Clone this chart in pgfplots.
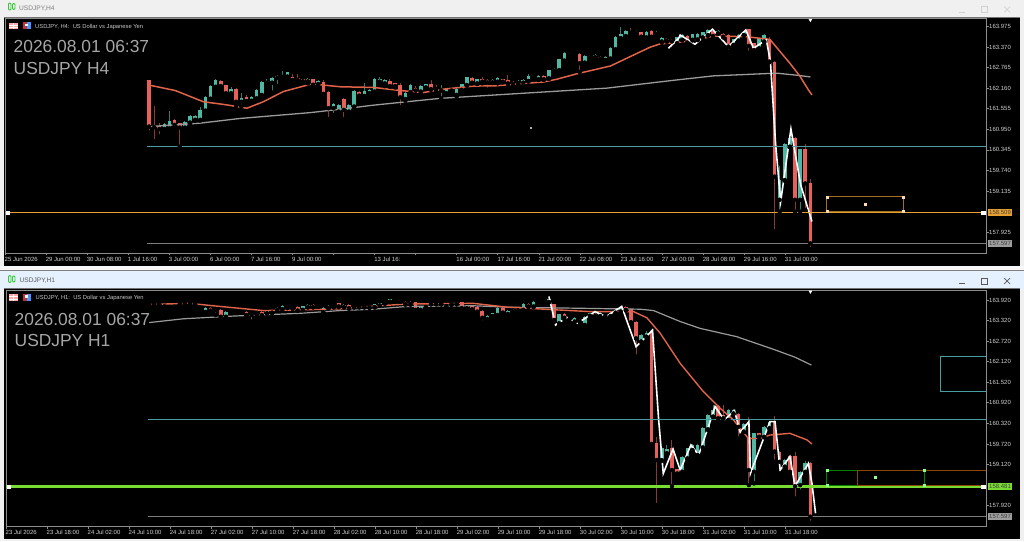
\documentclass[border=0pt]{standalone}
\usepackage{fontspec}
\setmainfont{Liberation Sans}
\usepackage{pgfplots}
\usepackage{pgfplotstable}
\pgfplotsset{compat=1.18}

\definecolor{upc}{HTML}{4FB8A2}
\definecolor{dnc}{HTML}{E8605A}
\definecolor{upw}{HTML}{2F7D70}
\definecolor{dnw}{HTML}{8A3A36}
\definecolor{maRed}{HTML}{E0634A}
\definecolor{maGray}{HTML}{9A9A9A}
\definecolor{levTeal}{HTML}{4A9EA2}
\definecolor{levOrange}{HTML}{E8A030}
\definecolor{levGreen}{HTML}{78DC32}
\definecolor{levGray}{HTML}{7C7C7C}
\definecolor{tickc}{HTML}{D0D0D0}
\definecolor{frame}{HTML}{8C8C8C}

% H4 candles: bar o h l c
\pgfplotstableread{
i o h l c
3 160.96 161.13 160.93 161.11
4 160.98 161.49 160.93 161.19
7 161.00 161.18 160.98 161.16
8 161.15 161.36 161.13 161.34
9 161.23 161.37 161.21 161.34
10 161.23 161.60 161.21 161.52
11 161.50 161.93 161.48 161.91
12 161.85 162.24 161.83 162.22
13 162.20 162.42 162.18 162.40
16 162.01 162.18 161.96 162.13
18 161.76 162.01 161.62 161.88
20 161.79 161.93 161.77 161.91
21 161.86 162.13 161.84 162.11
22 161.96 162.37 161.94 162.35
23 162.32 162.42 162.25 162.36
24 162.32 162.48 162.03 162.46
25 162.46 162.54 162.22 162.52
26 162.49 162.67 162.47 162.52
27 162.50 162.64 162.40 162.62
31 162.36 162.45 162.30 162.42
33 162.28 162.39 162.26 162.37
36 161.57 161.71 161.37 161.69
37 161.47 161.69 161.45 161.67
39 161.47 161.69 161.45 161.67
40 161.62 162.11 161.60 162.09
42 161.93 162.32 161.90 162.09
43 162.01 162.13 161.99 162.11
44 162.06 162.45 162.04 162.43
45 162.35 162.48 162.30 162.43
46 162.30 162.44 162.22 162.40
50 161.84 162.05 161.79 162.03
51 162.04 162.27 162.02 162.25
53 162.06 162.24 162.04 162.22
54 162.18 162.29 162.16 162.27
57 162.09 162.25 161.86 162.13
58 162.01 162.15 161.99 162.13
60 161.96 162.16 161.91 162.14
61 162.11 162.29 162.09 162.27
62 162.25 162.50 162.23 162.48
64 162.30 162.44 162.28 162.42
67 162.33 162.42 162.31 162.40
68 162.35 162.50 162.30 162.45
72 162.30 162.40 162.28 162.35
73 162.32 162.42 162.18 162.40
74 162.37 162.58 162.35 162.52
76 162.42 162.54 162.40 162.52
78 162.45 162.70 162.43 162.68
79 162.67 162.74 162.65 162.72
80 162.69 163.03 162.67 163.01
81 162.97 163.22 162.95 163.20
83 163.14 163.20 163.04 163.17
85 162.91 163.13 162.89 163.11
87 163.07 163.16 163.05 163.13
89 162.99 163.09 162.97 163.06
90 163.03 163.36 163.01 163.34
91 163.30 163.69 163.28 163.67
92 163.63 163.97 163.61 163.75
93 163.69 163.87 163.67 163.85
95 163.79 163.87 163.77 163.80
97 163.65 163.84 163.63 163.82
99 163.75 163.84 163.73 163.82
100 163.53 163.67 163.50 163.62
103 163.48 163.67 163.46 163.65
104 163.58 163.74 163.56 163.72
106 163.58 163.76 163.56 163.74
107 163.59 163.77 163.57 163.74
108 163.65 163.82 163.63 163.80
109 163.72 163.89 163.70 163.87
111 163.77 163.87 163.75 163.85
114 163.43 163.61 163.41 163.59
115 163.56 163.74 163.54 163.72
116 163.72 163.84 163.70 163.82
119 163.33 163.64 163.31 163.62
120 163.53 163.75 163.51 163.72
123 158.88 159.86 158.53 159.46
124 159.46 160.54 159.44 160.52
125 160.44 160.78 160.42 160.69
127 158.88 160.38 158.53 160.36
}\hfourup
\pgfplotstableread{
i o h l c
0 162.40 162.40 160.86 161.03
1 161.05 161.64 160.60 161.01
2 161.05 161.15 160.74 160.96
5 161.21 161.25 160.98 161.08
6 161.13 161.15 160.44 161.00
14 162.38 162.40 162.20 162.22
15 162.24 162.26 161.99 162.01
17 162.13 162.15 161.64 161.76
19 161.91 161.96 161.72 161.78
28 162.48 162.58 162.35 162.40
29 162.45 162.58 162.35 162.40
30 162.42 162.44 162.34 162.36
32 162.42 162.44 162.24 162.26
34 162.34 162.40 161.86 161.99
35 162.05 162.07 161.25 161.57
38 161.85 161.86 161.25 161.52
41 162.06 162.08 161.92 161.94
47 162.38 162.42 162.20 162.22
48 162.30 162.32 162.18 162.22
49 162.25 162.30 161.60 161.89
52 162.16 162.22 161.96 162.09
55 162.28 162.40 162.11 162.13
56 162.16 162.25 162.06 162.13
59 162.15 162.17 162.07 162.09
63 162.46 162.48 162.30 162.32
65 162.42 162.48 162.30 162.35
66 162.40 162.43 162.11 162.33
69 162.42 162.44 162.33 162.35
70 162.40 162.56 162.28 162.30
71 162.30 162.37 162.22 162.27
75 162.50 162.52 162.43 162.45
77 162.52 162.54 162.40 162.42
82 163.18 163.20 163.11 163.13
84 163.16 163.20 162.63 162.89
86 163.11 163.13 163.04 163.06
88 163.08 163.10 163.00 163.02
94 163.82 163.92 163.72 163.79
96 163.80 163.82 163.65 163.67
98 163.85 163.87 163.65 163.67
101 163.60 163.63 163.52 163.55
102 163.58 163.60 163.30 163.53
105 163.69 163.72 163.48 163.50
110 163.84 163.86 163.67 163.69
112 163.75 163.77 163.65 163.67
113 163.72 163.74 163.23 163.38
117 163.89 163.91 163.20 163.40
118 163.48 163.50 163.20 163.28
121 163.61 163.66 162.92 162.94
122 162.94 162.96 157.95 159.56
126 160.69 160.72 158.53 158.88
128 160.36 160.52 158.58 159.36
129 159.36 159.48 157.43 157.60
}\hfourdn
% H1 candles
\pgfplotstableread{
i o h l c
0 163.79 163.81 163.78 163.80
1 163.79 163.83 163.77 163.81
5 163.71 163.78 163.70 163.76
6 163.80 163.83 163.79 163.82
7 163.81 163.83 163.80 163.82
8 163.81 163.84 163.80 163.83
10 163.56 163.62 163.55 163.61
11 163.57 163.71 163.55 163.69
13 163.62 163.65 163.48 163.63
15 163.43 163.60 163.42 163.58
16 163.56 163.59 163.55 163.58
17 163.56 163.59 163.55 163.58
18 163.56 163.59 163.55 163.58
20 163.48 163.55 163.29 163.53
23 163.53 163.63 163.52 163.61
24 163.55 163.63 163.53 163.61
25 163.63 163.70 163.62 163.68
26 163.65 163.77 163.63 163.75
28 163.68 163.72 163.66 163.70
30 163.63 163.75 163.62 163.73
31 163.71 163.80 163.70 163.78
33 163.73 163.76 163.72 163.75
34 163.56 163.70 163.55 163.68
35 163.68 163.77 163.67 163.75
36 163.71 163.77 163.70 163.75
38 163.71 163.79 163.70 163.77
43 163.70 163.76 163.69 163.74
44 163.71 163.81 163.70 163.79
45 163.76 163.84 163.75 163.82
46 163.82 163.89 163.81 163.87
47 163.87 163.96 163.86 163.94
48 163.90 163.94 163.89 163.92
53 163.63 163.75 163.61 163.73
54 163.71 163.77 163.70 163.75
55 163.80 163.86 163.79 163.84
58 163.74 163.79 163.68 163.77
59 163.79 163.86 163.78 163.84
60 163.80 163.87 163.79 163.85
62 163.68 163.77 163.66 163.75
66 163.36 163.47 163.32 163.45
67 163.45 163.55 163.44 163.53
68 163.48 163.70 163.46 163.68
70 163.51 163.63 163.49 163.61
71 163.58 163.65 163.56 163.63
73 163.63 163.82 163.61 163.80
75 163.73 163.89 163.71 163.87
77 163.85 163.91 163.84 163.89
78 163.86 163.96 163.85 163.94
80 163.24 163.52 163.22 163.50
82 163.36 163.41 163.35 163.39
83 163.29 163.41 163.27 163.39
85 163.19 163.45 163.17 163.43
86 163.46 163.55 163.44 163.53
88 163.45 163.57 163.43 163.55
90 163.45 163.57 163.43 163.55
91 163.55 163.65 163.53 163.63
92 163.58 163.73 163.56 163.71
96 162.71 162.92 162.69 162.90
97 162.85 163.00 162.83 162.95
100 159.25 159.61 159.23 159.59
101 159.45 159.69 159.43 159.56
104 158.91 159.37 158.89 159.35
105 159.30 159.61 159.28 159.59
106 159.54 159.71 159.52 159.69
107 159.40 159.71 159.38 159.69
108 159.62 160.22 159.60 160.20
109 160.15 160.58 160.13 160.56
110 160.52 160.86 160.50 160.71
113 160.42 160.73 160.40 160.71
114 160.61 160.73 160.59 160.71
116 160.08 160.32 160.06 160.30
118 158.91 160.05 158.57 160.03
120 159.93 160.24 159.91 160.22
121 160.18 160.39 160.16 160.37
124 159.06 159.27 159.04 159.25
127 158.52 158.93 158.33 158.91
128 158.91 159.23 158.89 159.17
}\honeup
\pgfplotstableread{
i o h l c
2 163.82 163.84 163.78 163.79
3 163.77 163.79 163.68 163.73
4 163.75 163.77 163.63 163.71
9 163.84 163.85 163.79 163.80
12 163.68 163.70 163.60 163.61
14 163.63 163.65 163.42 163.43
19 163.58 163.60 163.46 163.48
21 163.53 163.55 163.48 163.50
22 163.58 163.60 163.46 163.48
27 163.75 163.77 163.68 163.70
29 163.71 163.73 163.60 163.61
32 163.77 163.79 163.70 163.71
37 163.82 163.84 163.71 163.73
39 163.77 163.79 163.66 163.68
40 163.75 163.77 163.70 163.71
41 163.74 163.76 163.70 163.71
42 163.75 163.76 163.70 163.71
49 163.92 163.94 163.87 163.89
50 163.87 163.89 163.78 163.80
51 163.86 163.88 163.78 163.80
52 163.85 163.87 163.61 163.63
56 163.84 163.86 163.79 163.80
57 163.84 163.86 163.79 163.80
61 163.85 163.87 163.66 163.68
63 163.74 163.76 163.63 163.65
64 163.71 163.73 163.55 163.58
65 163.61 163.63 163.26 163.40
69 163.68 163.70 163.53 163.55
72 163.65 163.67 163.60 163.61
74 163.80 163.82 163.71 163.73
76 163.86 163.88 163.82 163.83
79 163.79 163.81 163.28 163.34
81 163.51 163.53 163.35 163.40
84 163.34 163.36 163.27 163.29
87 163.51 163.53 163.43 163.45
89 163.48 163.50 163.43 163.45
93 163.71 163.73 163.61 163.63
94 163.65 163.67 163.25 163.27
95 163.29 163.31 162.27 162.80
98 163.02 163.04 159.70 159.72
99 159.74 159.93 157.94 159.25
102 159.59 159.84 158.49 158.96
103 158.98 159.00 158.84 158.86
111 160.83 160.85 160.45 160.47
112 160.56 160.86 160.45 160.47
115 160.60 160.62 159.88 160.22
117 159.93 160.52 158.52 158.96
119 160.03 160.05 159.90 159.93
122 160.37 160.54 159.20 159.50
123 159.50 159.52 158.86 159.20
125 159.37 159.39 158.81 158.91
126 159.37 159.50 158.13 158.49
129 159.17 159.20 157.42 157.60
}\honedn

\pgfplotsset{
  wick/.style={only marks, mark=none, forget plot,
    error bars/.cd, y dir=plus, y explicit, error mark=none,
    error bar style={line width=1pt, color=#1}},
  body/.style={only marks, mark=none, forget plot,
    error bars/.cd, y dir=plus, y explicit, error mark=none,
    error bar style={line width=3.6pt, color=#1}},
  chart/.style={
    scale only axis,
    axis background/.style={fill=black},
    axis line style={frame, line width=0.8pt},
    clip=true,
    xtick pos=bottom, ytick pos=right,
    yticklabel pos=right,
    tick align=outside,
    major tick length=2.5pt,
    tick style={frame, line width=0.7pt},
    scaled y ticks=false,
    ticklabel style={font=\fontsize{6}{7}\selectfont, text=tickc},
    xticklabel style={anchor=north west, inner sep=0pt, xshift=-0.5pt, yshift=-1.5pt},
    yticklabel style={anchor=west, inner sep=0pt, xshift=0.5pt},
  },
  handle/.style={only marks, mark=square*, mark size=1pt, mark options={fill=#1, draw=#1}},
}

\begin{document}
\begin{tikzpicture}[x=1pt,y=1pt]
\path[use as bounding box] (0,0) rectangle (1024,541);
% window chrome
\fill[black!6] (0,0) rectangle (1024,541);
\fill[blue!55!cyan!10] (0,252) rectangle (1024,271);
\fill[black!3] (0,271) rectangle (1024,275);
\fill[black!50] (0,270.2) rectangle (1024,271.2);
\fill[black] (4,275) rectangle (1020,523);
\fill[black] (4,2) rectangle (1020,252);
\draw[black!55, line width=0.8pt] (4,523.5) -- (1020,523.5);
\draw[black!55, line width=0.8pt] (4,252.5) -- (1020,252.5);

\begin{axis}[chart, anchor=south west, at={(5pt,288pt)}, width=981pt, height=235pt,
  xmin=-28.09, xmax=163.25, ymin=157.317, ymax=164.22,
  xtick={-28.09,-20.08,-12.07,-4.06,3.95,11.96,19.97,27.98,35.99,44,52.01,60.02,68.03,76.04,84.05,92.06,100.07,108.08,116.09,124.1},
  xticklabels={25 Jun 2026,29 Jun 00:00,30 Jun 08:00,1 Jul 16:00,3 Jul 00:00,6 Jul 00:00,7 Jul 16:00,9 Jul 00:00,,13 Jul 16:,,16 Jul 00:00,17 Jul 16:00,21 Jul 00:00,22 Jul 08:00,23 Jul 16:00,27 Jul 00:00,28 Jul 08:00,29 Jul 16:00,31 Jul 00:00},
  ytick={157.925,159.135,159.74,160.345,160.95,161.555,162.16,162.765,163.37,163.975},
  yticklabels={157.925,159.135,159.740,160.345,160.950,161.555,162.160,162.765,163.370,163.975},
]
\addplot[wick=upw] table[x=i,y=l,y error plus expr=\thisrow{h}-\thisrow{l}] {\hfourup};
\addplot[wick=dnw] table[x=i,y=l,y error plus expr=\thisrow{h}-\thisrow{l}] {\hfourdn};
\addplot[body=upc] table[x=i,y=o,y error plus expr=\thisrow{c}-\thisrow{o}] {\hfourup};
\addplot[body=dnc] table[x=i,y=c,y error plus expr=\thisrow{o}-\thisrow{c}] {\hfourdn};
% moving averages
\addplot[maGray, line width=1.3pt] coordinates {(0,161.03)(9.9,161.13)(17.8,161.27)(31.4,161.44)(37.3,161.54)(43.8,161.66)(56.8,161.86)(73,162.01)(89.3,162.16)(102.3,162.39)(110.1,162.52)(122.4,162.60)(126.3,162.54)(129,162.49)};
\addplot[maRed, line width=1.5pt] coordinates {(0,162.25)(5.1,162.09)(10.6,161.76)(15.1,161.67)(19.1,161.57)(22.3,161.76)(26.2,162.06)(31.4,162.27)(34,162.25)(37.3,162.20)(43.8,162.18)(49,162.09)(53.5,162.03)(57.4,162.13)(63.3,162.22)(67.8,162.23)(72.4,162.29)(76.9,162.34)(79.5,162.42)(83.4,162.58)(90,162.81)(93.2,163.04)(97.7,163.36)(99.7,163.46)(103.6,163.51)(106.8,163.58)(110.1,163.69)(116.6,163.67)(121.1,163.59)(125,162.89)(127,162.50)(128.6,162.11)(129.3,161.96)};
\addplot[white, line width=1.6pt] coordinates {(101.3,163.33)(103.3,163.62)(103.6,163.72)(106.5,163.45)(109.9,163.89)(113,163.38)(116.4,163.87)(117.9,163.33)(120.4,163.58)(121.2,162.94)(122.2,160.54)(123.2,158.83)(125.2,160.96)(127.1,159.32)(129.3,158.24)};
% levels
\addplot[levTeal, line width=1.1pt] coordinates {(-0.4,160.45)(163.25,160.45)};
\addplot[levGray, line width=1.1pt] coordinates {(-0.4,157.597)(163.25,157.597)};
\addplot[levOrange, line width=1.5pt] coordinates {(-28.09,158.509)(163.25,158.509)};
\addplot[levOrange!70!black, line width=1pt] coordinates {(132.2,158.97)(147.1,158.97)(147.1,158.55)(132.2,158.55)(132.2,158.97)};
\addplot[handle=orange!30!white] coordinates {(132.2,158.97)(147.1,158.97)(147.1,158.55)(132.2,158.55)(139.7,158.76)};
\addplot[only marks, mark=square*, mark size=1.6pt, mark options={fill=white, draw=white}] coordinates {(-27.5,158.509)(162.7,158.509)};
\addplot[only marks, mark=square*, mark size=0.3pt, mark options={fill=white!70!black, draw=white!70!black}] coordinates {(74.5,160.99)};
\addplot[only marks, mark=triangle*, mark size=1.7pt, mark options={fill=white, draw=white, rotate=180}] coordinates {(129,164.16)};
\end{axis}

\begin{axis}[chart, anchor=south west, at={(6pt,15pt)}, width=980pt, height=236pt,
  xmin=-27.9, xmax=163.25, ymin=157.328, ymax=164.21,
  xtick={-27.9,-19.9,-11.9,-3.9,4.1,12.1,20.1,28.1,36.1,44.1,52.1,60.1,68.1,76.1,84.1,92.1,100.1,108.1,116.1,124.1},
  xticklabels={23 Jul 2026,23 Jul 18:00,24 Jul 02:00,24 Jul 10:00,24 Jul 18:00,27 Jul 02:00,27 Jul 10:00,27 Jul 18:00,28 Jul 02:00,28 Jul 10:00,28 Jul 18:00,29 Jul 02:00,29 Jul 10:00,29 Jul 18:00,30 Jul 02:00,30 Jul 10:00,30 Jul 18:00,31 Jul 02:00,31 Jul 10:00,31 Jul 18:00},
  ytick={157.92,159.12,159.72,160.32,160.92,161.52,162.12,162.72,163.32,163.92},
  yticklabels={157.920,159.120,159.720,160.320,160.920,161.520,162.120,162.720,163.320,163.920},
]
\addplot[wick=upw] table[x=i,y=l,y error plus expr=\thisrow{h}-\thisrow{l}] {\honeup};
\addplot[wick=dnw] table[x=i,y=l,y error plus expr=\thisrow{h}-\thisrow{l}] {\honedn};
\addplot[body=upc] table[x=i,y=o,y error plus expr=\thisrow{c}-\thisrow{o}] {\honeup};
\addplot[body=dnc] table[x=i,y=c,y error plus expr=\thisrow{o}-\thisrow{c}] {\honedn};
\addplot[maGray, line width=1.2pt] coordinates {(0,163.26)(6.7,163.37)(16.5,163.45)(29.5,163.53)(37.3,163.61)(43.8,163.65)(50.3,163.73)(63.3,163.75)(69.8,163.71)(82.8,163.68)(95.8,163.65)(98.4,163.61)(103.6,163.29)(107.5,163.09)(114.6,162.85)(121.8,162.48)(126,162.25)(129.2,162.02)};
\addplot[maRed, line width=1.4pt] coordinates {(0,163.79)(8,163.82)(12.5,163.75)(22.3,163.61)(29.5,163.63)(37.3,163.66)(43.8,163.74)(50.3,163.80)(63.3,163.82)(69.8,163.71)(79.5,163.63)(86,163.58)(94.5,163.58)(97.1,163.40)(99.7,162.95)(103.6,162.07)(108.1,161.25)(111.4,160.76)(114,160.42)(116.9,159.88)(119.2,159.88)(121.1,159.98)(125,160.03)(128.3,159.84)(129.3,159.72)};
\addplot[white, line width=1.6pt] coordinates {(78,164.02)(79.3,163.19)(81.5,163.41)(83.6,163.24)(87,163.58)(89.1,163.43)(92.2,163.73)(95,162.56)(98.2,163.04)(99.4,160.42)(100.3,158.86)(102.2,159.57)(103.6,158.96)(105.7,159.69)(107.2,159.40)(109.1,160.22)(110.4,160.81)(112.2,160.42)(114.2,160.69)(115.3,160.06)(117,160.37)(117.3,158.86)(121.1,160.37)(122.1,160.37)(123.1,158.96)(125,159.35)(126,158.49)(128.6,159.15)(129.3,158.57)(130,157.70)};
\addplot[levTeal, line width=1.1pt] coordinates {(-0.2,160.44)(163.25,160.44)};
\addplot[levGray, line width=1.1pt] coordinates {(-0.2,157.597)(163.25,157.597)};
\addplot[levGreen, line width=2.2pt] coordinates {(-27.9,158.481)(163.25,158.481)};
\addplot[green!50!black, line width=1pt] coordinates {(132.2,158.96)(151.2,158.96)(151.2,158.52)(132.2,158.52)(132.2,158.96)};
\addplot[orange!55!black, line width=1pt] coordinates {(163.25,158.96)(138.2,158.96)(138.2,158.52)(163.25,158.52)};
\addplot[levTeal, line width=1.1pt] coordinates {(163.25,162.28)(154.3,162.28)(154.3,161.25)(163.25,161.25)};
\addplot[handle=green!45!white] coordinates {(132.2,158.96)(151.2,158.96)(151.2,158.52)(132.2,158.52)(141.7,158.75)};
\addplot[only marks, mark=square*, mark size=1.6pt, mark options={fill=white, draw=white}] coordinates {(-27.4,158.481)(162.7,158.481)};
\addplot[only marks, mark=triangle*, mark size=1.7pt, mark options={fill=white, draw=white, rotate=180}] coordinates {(129,164.16)};
\end{axis}

% price tags
\node[fill=levOrange, text=black!75, inner sep=0pt, minimum width=24pt, minimum height=7pt, font=\fontsize{6}{7}\selectfont] at (1000,328.7) {158.509};
\node[fill=black!38, text=black!75, inner sep=0pt, minimum width=24pt, minimum height=7pt, font=\fontsize{6}{7}\selectfont] at (1000,297.6) {157.597};
\node[fill=levGreen, text=black!75, inner sep=0pt, minimum width=24pt, minimum height=7pt, font=\fontsize{6}{7}\selectfont] at (1000,54.4) {158.481};
\node[fill=black!38, text=black!75, inner sep=0pt, minimum width=24pt, minimum height=7pt, font=\fontsize{6}{7}\selectfont] at (1000,24.2) {157.597};

% captions on the charts
\node[anchor=base west, inner sep=0pt, text=black!35, font=\fontsize{17.4}{20}\selectfont] at (13.5,488.5) {2026.08.01 06:37};
\node[anchor=base west, inner sep=0pt, text=black!35, font=\fontsize{17.4}{20}\selectfont] at (13.5,466) {USDJPY H4};
\node[anchor=base west, inner sep=0pt, text=black!35, font=\fontsize{17.4}{20}\selectfont] at (14.5,215.5) {2026.08.01 06:37};
\node[anchor=base west, inner sep=0pt, text=black!35, font=\fontsize{17.4}{20}\selectfont] at (14.5,194) {USDJPY H1};
\node[anchor=base west, inner sep=0pt, text=black!22, font=\fontsize{5.8}{7}\selectfont] at (35,512.5) {USDJPY, H4:\ \ US Dollar vs Japanese Yen};
\node[anchor=base west, inner sep=0pt, text=black!22, font=\fontsize{5.8}{7}\selectfont] at (35.5,241.5) {USDJPY, H1:\ \ US Dollar vs Japanese Yen};

% window titles
\node[anchor=base west, inner sep=0pt, text=black!50, font=\fontsize{6.6}{8}\selectfont] at (19,530) {USDJPY,H4};
\node[anchor=base west, inner sep=0pt, text=black!65, font=\fontsize{6.6}{8}\selectfont] at (19.5,258) {USDJPY,H1};
\foreach \yy/\cc in {531/green!55!gray, 258.5/green!60!gray}{
  \draw[\cc, line width=0.8pt, rounded corners=1pt] (8.5,\yy) rectangle (11,\yy+7);
  \draw[\cc, line width=0.8pt, rounded corners=1pt] (12.5,\yy+0.5) rectangle (15,\yy+6.5);
}
% toolbar icons
\foreach \yy in {511.5,240}{
  \fill[red!35!white] (9,\yy) rectangle (18,\yy+6.5);
  \draw[white, line width=0.4pt] (9,\yy+2.2) -- (18,\yy+2.2) (9,\yy+4.4) -- (18,\yy+4.4) (13.5,\yy) -- (13.5,\yy+6.5);
  \fill[red!70!black!80!white] (22.5,\yy) rectangle (26.5,\yy+7);
  \fill[blue!60!cyan!70] (26.5,\yy) rectangle (31,\yy+7);
  \fill[white] (25,\yy+3) rectangle (28,\yy+5.5);
}
% window buttons
\foreach \yy/\cc in {531.5/black!18, 260/black!65}{
  \draw[\cc, line width=0.7pt] (959,\yy-2.5) -- (964.5,\yy-2.5);
  \draw[\cc, line width=0.7pt] (981,\yy-3) rectangle (987,\yy+3);
  \draw[\cc, line width=0.7pt] (1004,\yy-3) -- (1010,\yy+3) (1004,\yy+3) -- (1010,\yy-3);
}
\end{tikzpicture}
\end{document}
